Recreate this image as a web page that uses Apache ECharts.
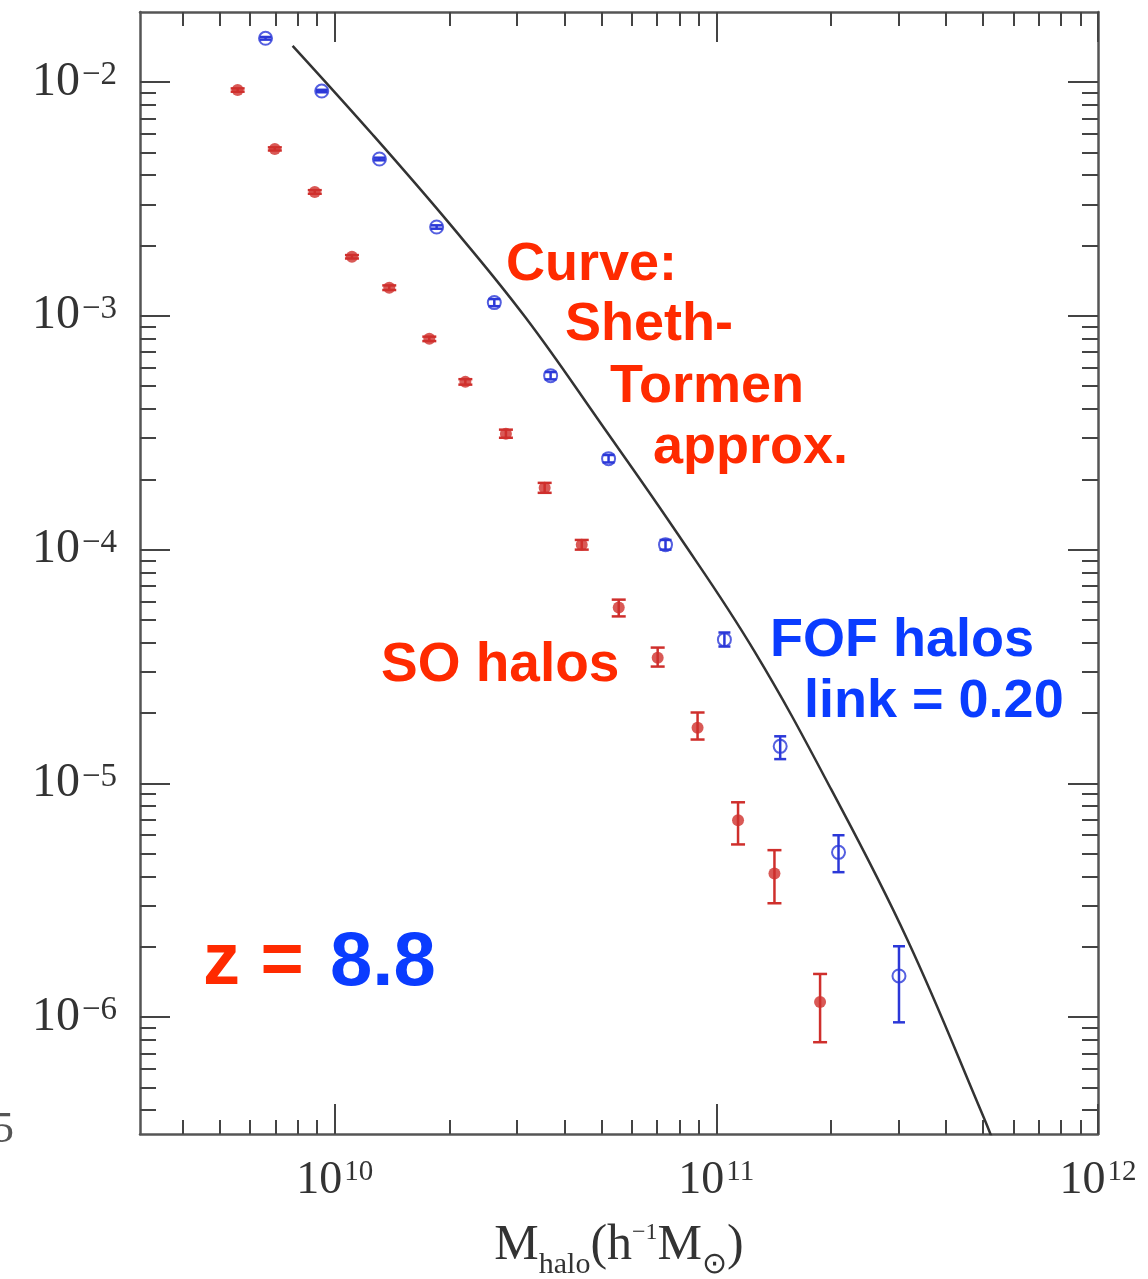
<!DOCTYPE html>
<html>
<head>
<meta charset="utf-8">
<title>Halo mass function, z = 8.8</title>
<script src="https://cdn.jsdelivr.net/npm/echarts@6/dist/echarts.min.js"></script>
<style>
  html, body { margin: 0; padding: 0; background: #fff; }
  #chart { width: 1148px; height: 1279px; }
</style>
</head>
<body>
<div id="chart"></div>
<script>
// SO halos (red filled dots), mass in h^-1 Msun, density with error range
var soMass = [5.57e9, 6.97e9, 8.87e9, 1.11e10, 1.39e10, 1.77e10, 2.20e10, 2.81e10,
              3.55e10, 4.44e10, 5.55e10, 7.02e10, 8.93e10, 1.14e11, 1.42e11, 1.87e11];
var soDens = [9.25e-3, 5.18e-3, 3.39e-3, 1.79e-3, 1.32e-3, 7.98e-4, 5.22e-4, 3.13e-4,
              1.84e-4, 1.05e-4, 5.65e-5, 3.45e-5, 1.73e-5, 6.95e-6, 4.12e-6, 1.16e-6];
var soLow  = [9.1e-3, 5.1e-3, 3.33e-3, 1.76e-3, 1.29e-3, 7.8e-4, 5.08e-4, 3.01e-4,
              1.75e-4, 1.00e-4, 5.18e-5, 3.16e-5, 1.54e-5, 5.48e-6, 3.07e-6, 7.81e-7];
var soHigh = [9.4e-3, 5.26e-3, 3.45e-3, 1.82e-3, 1.35e-3, 8.15e-4, 5.36e-4, 3.26e-4,
              1.93e-4, 1.10e-4, 6.11e-5, 3.81e-5, 2.01e-5, 8.30e-6, 5.18e-6, 1.53e-6];

// FOF halos, link = 0.20 (blue open circles)
var fofMass = [6.59e9, 9.25e9, 1.31e10, 1.85e10, 2.62e10, 3.68e10,
               5.22e10, 7.36e10, 1.05e11, 1.47e11, 2.09e11, 3.01e11];
var fofDens = [1.54e-2, 9.16e-3, 4.69e-3, 2.40e-3, 1.14e-3, 5.55e-4,
               2.45e-4, 1.05e-4, 4.12e-5, 1.44e-5, 5.07e-6, 1.50e-6];
var fofLow  = [1.52e-2, 9.05e-3, 4.63e-3, 2.36e-3, 1.10e-3, 5.35e-4,
               2.36e-4, 1.00e-4, 3.85e-5, 1.27e-5, 4.17e-6, 9.5e-7];
var fofHigh = [1.56e-2, 9.27e-3, 4.75e-3, 2.44e-3, 1.18e-3, 5.75e-4,
               2.54e-4, 1.10e-4, 4.42e-5, 1.59e-5, 6.0e-6, 2.01e-6];

// Sheth-Tormen approximation (curve)
var stMass = [7.76e9, 1.26e10, 2.00e10, 3.16e10, 5.01e10, 7.94e10,
              1.26e11, 2.00e11, 3.16e11, 5.01e11, 5.37e11];
var stDens = [1.43e-2, 5.94e-3, 2.48e-3, 9.86e-4, 3.42e-4, 1.16e-4,
              3.66e-5, 9.42e-6, 2.16e-6, 3.75e-7, 2.82e-7];

// axes (log10 units)
var xMin = 9.49, xMax = 12;
var yMin = -6.5, yMax = -1.7;
var xMajor = [10, 11, 12];
var yMajor = [-6, -5, -4, -3, -2];
var xDecades = [9, 10, 11];
var yDecades = [-7, -6, -5, -4, -3, -2];
var mantissas = [2, 3, 4, 5, 6, 7, 8, 9];

function minorTicks(decades, lo, hi) {
  var out = [];
  decades.forEach(function (d) {
    mantissas.forEach(function (m) {
      var v = d + Math.log10(m);
      if (v > lo && v < hi) out.push(v);
    });
  });
  return out;
}
var xMinor = minorTicks(xDecades, xMin, xMax);
var yMinor = minorTicks(yDecades, yMin, yMax);

var lg = Math.log10;
function points(mass, dens) {
  return mass.map(function (m, i) { return [lg(m), lg(dens[i])]; });
}
function bars(mass, low, high) {
  return mass.map(function (m, i) { return [lg(m), lg(low[i]), lg(high[i])]; });
}

var serif = '"Liberation Serif", "Times New Roman", serif';
var sans = '"Liberation Sans", Arial, sans-serif';
var axisColor = '#555';
var tickColor = '#444';

function expLabel(v) {
  var e = v < 0 ? '\u2212' + (-v) : String(v);
  return '{b|10}{s|' + e + '}';
}
function labelRich(mainSize, supSize) {
  return {
    b: { fontSize: mainSize, fontFamily: serif, color: '#333', lineHeight: 46 },
    s: { fontSize: supSize, fontFamily: serif, color: '#333', lineHeight: 34, verticalAlign: 'top',
         padding: [0, 0, 0, 2] }
  };
}

function makeAxis(pos, min, max, ticks, len, withLine, label) {
  return {
    type: 'value',
    position: pos,
    min: min,
    max: max,
    axisLine: { show: withLine, onZero: false, lineStyle: { color: axisColor, width: 2.5 } },
    axisTick: { show: true, inside: true, length: len, customValues: ticks,
                lineStyle: { color: tickColor, width: 2 } },
    axisLabel: label || { show: false },
    splitLine: { show: false }
  };
}

var xMain = makeAxis('bottom', xMin, xMax, xMajor, 30, true, {
  show: true, customValues: xMajor, margin: 24, formatter: expLabel, rich: labelRich(46, 29)
});
xMain.name = '{b|M}{sub|halo}{b|(h}{sup|\u22121}{b|M}{sub|\u2299}{b|)}';
xMain.nameLocation = 'middle';
xMain.nameGap = 78;
xMain.nameTextStyle = {
  rich: {
    b: { fontSize: 50, fontFamily: serif, color: '#333', lineHeight: 68 },
    sub: { fontSize: 30, fontFamily: serif, color: '#333', verticalAlign: 'bottom' },
    sup: { fontSize: 24, fontFamily: serif, color: '#333', verticalAlign: 'top', padding: [9, 0, 0, 0] }
  }
};

var yMain = makeAxis('left', yMin, yMax, yMajor, 30, true, {
  show: true, customValues: yMajor, margin: 23, formatter: expLabel, rich: labelRich(48, 33)
});

function errorBars(color, capHalf) {
  return function (params, api) {
    var x = api.value(0);
    var lo = api.coord([x, api.value(1)]);
    var hi = api.coord([x, api.value(2)]);
    var st = { stroke: color, lineWidth: 2.5 };
    return {
      type: 'group',
      children: [
        { type: 'line', shape: { x1: hi[0], y1: hi[1], x2: lo[0], y2: lo[1] }, style: st },
        { type: 'line', shape: { x1: hi[0] - capHalf, y1: hi[1], x2: hi[0] + capHalf, y2: hi[1] }, style: st },
        { type: 'line', shape: { x1: lo[0] - capHalf, y1: lo[1], x2: lo[0] + capHalf, y2: lo[1] }, style: st }
      ]
    };
  };
}

var soColor = '#cf2f2c';
var fofColor = '#2b38d8';
var redText = '#ff2a00';
var blueText = '#0a3cff';

var option = {
  animation: false,
  backgroundColor: '#fff',
  grid: { left: 140, right: 50, top: 12, bottom: 145, outerBoundsMode: 'none' },
  xAxis: [
    xMain,
    makeAxis('bottom', xMin, xMax, xMinor, 14, false),
    makeAxis('top', xMin, xMax, xMajor, 30, true),
    makeAxis('top', xMin, xMax, xMinor, 14, false)
  ],
  yAxis: [
    yMain,
    makeAxis('left', yMin, yMax, yMinor, 16, false),
    makeAxis('right', yMin, yMax, yMajor, 30, true),
    makeAxis('right', yMin, yMax, yMinor, 16, false)
  ],
  series: [
    {
      name: 'Sheth-Tormen',
      type: 'line',
      data: points(stMass, stDens),
      showSymbol: false,
      smooth: 0.4,
      clip: true,
      lineStyle: { color: '#333', width: 2.5 },
      z: 2
    },
    {
      name: 'SO halos',
      type: 'scatter',
      data: points(soMass, soDens),
      symbol: 'circle',
      symbolSize: 12,
      itemStyle: { color: soColor },
      z: 3
    },
    {
      name: 'SO errors',
      type: 'custom',
      data: bars(soMass, soLow, soHigh),
      encode: { x: 0, y: [1, 2] },
      renderItem: errorBars(soColor, 7),
      z: 4
    },
    {
      name: 'FOF halos',
      type: 'scatter',
      data: points(fofMass, fofDens),
      symbol: 'circle',
      symbolSize: 13,
      itemStyle: { color: 'rgba(0,0,0,0)', borderColor: fofColor, borderWidth: 2 },
      z: 3
    },
    {
      name: 'FOF errors',
      type: 'custom',
      data: bars(fofMass, fofLow, fofHigh),
      encode: { x: 0, y: [1, 2] },
      renderItem: errorBars(fofColor, 6),
      z: 4
    }
  ],
  graphic: [
    { type: 'text', x: 506, y: 265, style: { text: 'Curve:', fill: redText, font: 'bold 54px ' + sans, verticalAlign: 'middle' } },
    { type: 'text', x: 565, y: 325, style: { text: 'Sheth-', fill: redText, font: 'bold 54px ' + sans, verticalAlign: 'middle' } },
    { type: 'text', x: 610, y: 387, style: { text: 'Tormen', fill: redText, font: 'bold 54px ' + sans, verticalAlign: 'middle' } },
    { type: 'text', x: 653, y: 448, style: { text: 'approx.', fill: redText, font: 'bold 54px ' + sans, verticalAlign: 'middle' } },
    { type: 'text', x: 381, y: 666, style: { text: 'SO halos', fill: redText, font: 'bold 55px ' + sans, verticalAlign: 'middle' } },
    { type: 'text', x: 770, y: 641, style: { text: 'FOF halos', fill: blueText, font: 'bold 54px ' + sans, verticalAlign: 'middle' } },
    { type: 'text', x: 804, y: 702, style: { text: 'link = 0.20', fill: blueText, font: 'bold 54px ' + sans, verticalAlign: 'middle' } },
    { type: 'text', x: 203, y: 964, style: { text: 'z =', fill: redText, font: 'bold 74px ' + sans, verticalAlign: 'middle' } },
    { type: 'text', x: 330, y: 964, style: { text: '8.8', fill: blueText, font: 'bold 76px ' + sans, verticalAlign: 'middle' } },
    { type: 'text', x: -8, y: 1130, style: { text: '5', fill: '#555', font: '44px ' + serif, verticalAlign: 'middle' } }
  ]
};

var chart = echarts.init(document.getElementById('chart'), null, { renderer: 'canvas' });
chart.setOption(option);
</script>
</body>
</html>
